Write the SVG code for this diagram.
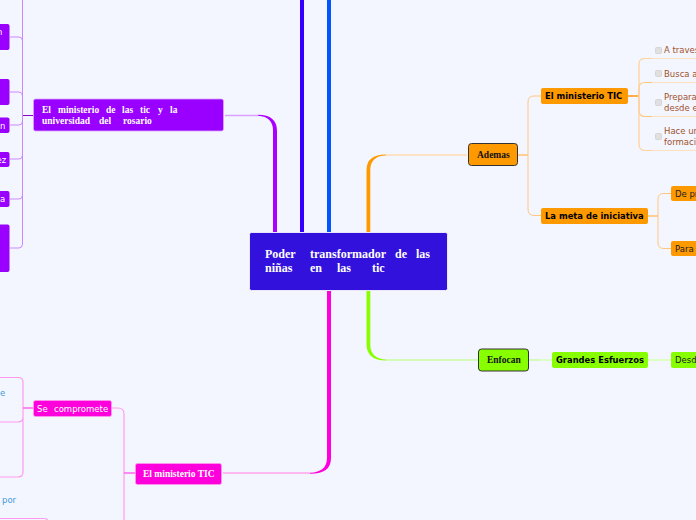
<svg xmlns="http://www.w3.org/2000/svg" width="696" height="520" viewBox="0 0 696 520">
<style>
.c{fill:none;stroke-linecap:butt}
.s{font-family:"DejaVu Sans",Verdana,sans-serif;font-size:8.5px}
.b{font-weight:bold;fill:#000;font-size:8.4px}
.r{font-family:"Liberation Serif","Times New Roman",serif;font-weight:bold}
.w{fill:#fff}
.br{fill:#a0522d}
.bl{fill:#3d9bd9}
.chk{fill:#e0e0e0;stroke:#d0d0d0;stroke-width:.8}
</style>
<rect width="696" height="520" fill="#f4f6ff"/>
<g id="connectors" class="c">
<path d="M302 0V232" stroke="#3300ff" stroke-width="4"/>
<path d="M329 0V232" stroke="#0055ff" stroke-width="4"/>
<path d="M225 115.500H258" stroke="#d9a0ff" stroke-width="1.500"/>
<path d="M277 232V131Q277 115 258 114.800V115.800Q273 116.500 273 131V232Z" fill="#aa00ff"/>
<path d="M223 473H310" stroke="#ffb8f2" stroke-width="2"/>
<path d="M331 291V458Q331 474 310 473.800V472.800Q327 472 327 458V291Z" fill="#ff00dd"/>
<path d="M386 155H467" stroke="#ffdcb3" stroke-width="1.500"/>
<path d="M366.500 232V170Q366.500 154.500 386 154.500V155.500Q370.300 156 370.300 170V232Z" fill="#ff9900"/>
<path d="M386 360H478" stroke="#b4ff70" stroke-width="1"/>
<path d="M366.500 291V344Q366.500 360.500 386 360.500V359.500Q370.300 359 370.300 344V291Z" fill="#88ff00"/>
<path d="M10 37H19Q22.500 37 22.500 41M10 92H19Q22.500 92 22.500 96M10 125H19Q22.500 125 22.500 121M10 159H19Q22.500 159 22.500 155M10 199H19Q22.500 199 22.500 195M10 248H19Q22.500 248 22.500 244M22.500 0V244" stroke="#cc88ff" stroke-width="1"/>
<path d="M23 115.500H33" stroke="#8a00cc" stroke-width="1"/>
<path d="M518 155H528" stroke="#ffcf96" stroke-width="2"/>
<path d="M528 155V102Q528 96 534 96H541M528 155V209Q528 215.500 534 215.500H541" stroke="#ffc680" stroke-width="1"/>
<path d="M628 96H639" stroke="#ffb04d" stroke-width="2"/>
<path d="M696 58.500H645Q639 58.500 639 64V144Q639 150.500 645 150.500H696M696 116.500H652M696 82.500H652" stroke="#ffe0bd" stroke-width="1.200"/>
<path d="M652 82.500H645Q639 82.500 639 88V110Q639 116.500 645 116.500H652" stroke="#ffc680" stroke-width="1.200"/>
<path d="M652 58.500H645Q639 58.500 639 64V144Q639 150.500 645 150.500H652" stroke="#ffd3a0" stroke-width="1"/>
<path d="M648 216H658" stroke="#ffcf96" stroke-width="2"/>
<path d="M658 216V199Q658 193.500 664 193.500H671M658 216V243Q658 248.500 664 248.500H671" stroke="#ffc680" stroke-width="1"/>
<path d="M529 360H540" stroke="#b4ff70" stroke-width="1"/>
<path d="M540 360H552M648 360H671" stroke="#ddffc4" stroke-width="2"/>
<path d="M112 408H118Q124 408 124 414V520" stroke="#ff99f0" stroke-width="1.200"/>
<path d="M0 377.500H18Q23 377.500 23 382V472Q23 477 18 477H0M0 422H18Q23 422 23 417" stroke="#ff99f0" stroke-width="1.200"/>
<path d="M0 518.500H44Q48 518.500 48 522" stroke="#ff99f0" stroke-width="1.200"/>
<path d="M124 473H135M23 408H33" stroke="#ff66ee" stroke-width="1.500"/>
</g>
<g id="root"><rect x="249.500" y="232.500" width="198" height="58" rx="2" fill="#3311dd" stroke="#fff" stroke-width=".8"/>
<g class="r w" font-size="12"><text x="265" y="258">Poder</text><text x="310" y="258">transformador</text><text x="395" y="258">de</text><text x="416" y="258">las</text>
<text x="265" y="272">niñas</text><text x="310" y="272">en</text><text x="337" y="272">las</text><text x="372" y="272">tic</text></g></g>
<g id="n-ministerio-universidad"><rect x="33.500" y="99" width="190" height="32" rx="2" fill="#9900ff" stroke="#d9a6ff" stroke-width=".8"/>
<g class="r w" font-size="9.500"><text x="42" y="113">El</text><text x="58" y="113">ministerio</text><text x="106" y="113">de</text><text x="122" y="113">las</text><text x="140" y="113">tic</text><text x="158" y="113">y</text><text x="170" y="113">la</text><text x="42" y="124">universidad</text><text x="99" y="124">del</text><text x="123" y="124">rosario</text></g></g>
<g id="n-p1"><rect x="-6" y="24" width="15.500" height="26" rx="2" fill="#9900ff"/><text class="s w" x="-3" y="35">n</text></g>
<g id="n-p2"><rect x="-6" y="79" width="15.500" height="26" rx="2" fill="#9900ff"/></g>
<g id="n-p3"><rect x="-6" y="117.500" width="15.500" height="15.500" rx="2" fill="#9900ff"/><text class="s w" x="0" y="129">n</text></g>
<g id="n-p4"><rect x="-6" y="152" width="15.500" height="15" rx="2" fill="#9900ff"/><text class="s w" x="-3.500" y="163">ez</text></g>
<g id="n-p5"><rect x="-6" y="191" width="15.500" height="16" rx="2" fill="#9900ff"/><text class="s w" x="0" y="202">a</text></g>
<g id="n-p6"><rect x="-6" y="224.500" width="15.500" height="47.500" rx="2" fill="#9900ff"/></g>
<g id="n-ademas"><rect x="468.500" y="143.500" width="49" height="22" rx="3" fill="#ff9900" stroke="#333" stroke-width="1"/><text class="r" font-size="9.500" fill="#111" x="477" y="158">Ademas</text></g>
<g id="n-tic"><rect x="541" y="88" width="87" height="16" rx="2" fill="#ff9900"/><text class="s b" x="545" y="99">El ministerio TIC</text></g>
<g id="n-meta"><rect x="541" y="208" width="107" height="16" rx="2" fill="#ff9900"/><text class="s b" x="545" y="219">La meta de iniciativa</text></g>
<g id="n-depr"><rect x="671" y="186" width="30" height="15" rx="2" fill="#ff9900"/><text class="s" fill="#222" x="675" y="197">De pr</text></g>
<g id="n-para"><rect x="671" y="241" width="30" height="15" rx="2" fill="#ff9900"/><text class="s" fill="#222" x="675" y="252">Para</text></g>
<g id="n-t1"><rect class="chk" x="655.500" y="47.500" width="6" height="6" rx="1"/><text class="s br" x="664" y="53">A traves</text></g>
<g id="n-t2"><rect class="chk" x="655.500" y="70.500" width="6" height="6" rx="1"/><text class="s br" x="664" y="77">Busca a</text></g>
<g id="n-t3"><rect class="chk" x="655.500" y="99.500" width="6" height="6" rx="1"/><text class="s br" x="664" y="100">Prepara</text><text class="s br" x="664" y="111">desde e</text></g>
<g id="n-t4"><rect class="chk" x="655.500" y="133.500" width="6" height="6" rx="1"/><text class="s br" x="664" y="134">Hace ur</text><text class="s br" x="664" y="145">formaci</text></g>
<g id="n-enfocan"><rect x="478.500" y="349" width="50" height="22" rx="3" fill="#88ff00" stroke="#333" stroke-width="1"/><text class="r" font-size="9.500" fill="#111" x="487" y="363">Enfocan</text></g>
<g id="n-grandes"><rect x="552" y="352" width="96" height="16" rx="2" fill="#88ff00"/><text class="s b" x="556" y="363">Grandes Esfuerzos</text></g>
<g id="n-desd"><rect x="671" y="352" width="30" height="16" rx="2" fill="#88ff00"/><text class="s" fill="#222" x="675" y="363">Desd</text></g>
<g id="n-tic2"><rect x="135.500" y="463.500" width="86" height="21" rx="2" fill="#ff00dd" stroke="#ff99ee" stroke-width=".8"/><text class="r w" font-size="9.500" x="143" y="477">El ministerio TIC</text></g>
<g id="n-compromete"><rect x="33.500" y="400.500" width="78" height="16" rx="2" fill="#ff00dd" stroke="#ff99ee" stroke-width=".8"/><text class="s w" x="37" y="412">Se</text><text class="s w" x="54" y="412">compromete</text></g>
<g id="n-l1"><text class="s bl" x="0" y="396">e</text></g>
<g id="n-l2"><text class="s bl" x="2" y="503">por</text></g>
</svg>
